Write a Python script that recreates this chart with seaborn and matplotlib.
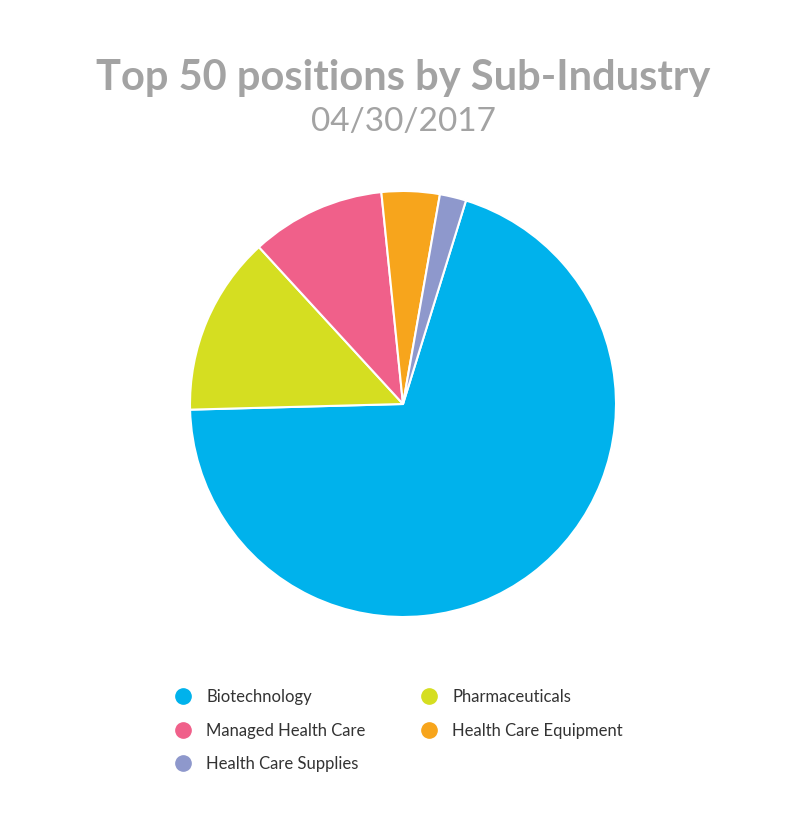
import matplotlib
matplotlib.use("Agg")
import matplotlib.pyplot as plt
from matplotlib.lines import Line2D
import seaborn as sns

sns.set_theme(style="white")
plt.rcParams['font.family'] = ['Lato', 'DejaVu Sans']

categories = ["Biotechnology", "Pharmaceuticals", "Managed Health Care", "Health Care Equipment", "Health Care Supplies"]
values = [69.8, 13.6, 10.2, 4.4, 2.0]
colors = ["#00b2ec", "#d5de21", "#f0608a", "#f7a51c", "#8e98cc"]

fig = plt.figure(figsize=(8.07, 8.38), dpi=100)
ax = fig.add_axes([(403-213)/807, (838-404-213)/838, 426/807, 426/838])
ax.pie(values, colors=colors, startangle=72.8, counterclock=False, radius=1,
       wedgeprops=dict(edgecolor="white", linewidth=1.5))
ax.set_xlim(-1, 1)
ax.set_ylim(-1, 1)
ax.set_aspect("equal")

fig.text(0.5, 1-78/838, "Top 50 positions by Sub-Industry", ha="center", va="center",
         fontsize=30, fontweight="bold", color="#a3a3a3")
fig.text(0.5, 1-122/838, "04/30/2017", ha="center", va="center", fontsize=24, color="#a3a3a3")

order = [0, 2, 4, 1, 3]
handles = [Line2D([], [], marker="o", linestyle="", markersize=11, color=colors[i]) for i in order]
labels = [categories[i] for i in order]
fig.legend(handles, labels, ncol=2, loc="upper left", bbox_to_anchor=(151/807, 1-674/838),
           frameon=False, fontsize=12, handletextpad=0.4, columnspacing=2.8,
           labelspacing=1.05, labelcolor="#333333")

fig.savefig("out.png", dpi=100, facecolor="white")
